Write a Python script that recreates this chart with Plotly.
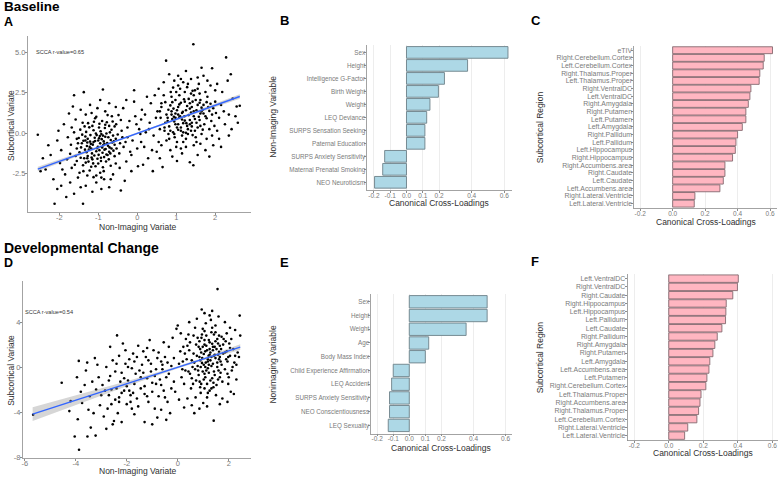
import numpy as np
import plotly.graph_objects as go

W, H = 780, 479
def PX(x): return x / W
def PY(y): return 1 - y / H

FONT = "Liberation Sans, Arial, sans-serif"

# ---------------- Panel A: baseline scatter (estimated points) ----------------
a_pts = [
(-1.21,-0.52),(-0.98,-0.31),(-1.05,-1.12),(-0.87,-0.74),(-1.33,-0.21),(-1.12,0.18),(-0.76,-1.35),(-0.92,-0.05),(-1.44,-0.88),(-1.02,-1.58),
(-0.68,-0.42),(-1.18,-0.95),(-0.83,0.32),(-1.27,-1.41),(-0.95,-0.63),(-1.09,-0.28),(-0.71,-0.88),(-1.38,-0.47),(-0.89,-1.21),(-1.15,0.45),
(-0.62,-0.15),(-1.25,-1.76),(-1.01,-0.84),(-0.79,-0.02),(-1.48,-1.18),(-0.94,0.12),(-1.07,-2.05),(-0.73,-1.62),(-1.31,0.08),(-0.86,-0.51),
(-1.19,-0.66),(-0.58,-0.72),(-1.41,-0.09),(-0.99,-1.34),(-0.81,-0.98),(-1.13,-1.87),(-0.66,0.21),(-1.36,-1.55),(-0.91,-0.37),(-1.23,0.36),
(-0.77,-0.61),(-1.04,-0.12),(-1.29,-0.79),(-0.85,-1.48),(-0.61,-1.08),(-1.16,-1.25),(-0.97,0.58),(-1.52,-0.62),(-0.72,0.45),(-1.08,-0.48),
(-0.88,-2.11),(-1.34,-1.02),(-0.55,-0.35),(-1.22,-2.31),(-0.93,-1.72),(-1.46,0.22),(-0.69,-1.25),(-1.11,0.71),(-0.82,-0.22),(-1.27,-0.35),
(-1.58,-1.41),(-0.64,-0.58),(-1.03,-0.93),(-0.78,0.68),(-1.39,-1.98),(-0.96,-0.18),(-1.17,-1.51),(-0.53,-0.95),(-1.28,-0.58),(-0.84,-1.02),
(-1.14,-0.71),(-0.90,-0.88),(-1.06,-0.02),(-0.74,-0.25),(-1.30,-1.18),(-0.97,-1.05),(-1.20,-0.12),(-0.84,-0.65),(-1.42,-0.62),(-0.66,-0.95),
(-1.00,-0.45),(-1.24,-1.02),(-0.80,-1.75),(-1.10,-1.38),(-0.60,-0.50),(-1.35,0.42),(-0.90,0.75),(-1.18,-2.08),(-0.70,0.05),(-1.50,-0.30),
(-0.95,-2.45),(-1.32,-1.82),(-0.58,-1.42),(-1.08,0.92),(-0.76,1.12),(-1.45,-1.52),(-0.88,-0.15),(-1.22,-0.85),(-0.68,-2.02),(-1.00,-1.88),
(-0.82,0.52),(-1.38,-2.35),(-0.50,-0.08),(-1.26,0.62),(-0.93,-1.52),(-1.12,-0.55),(-0.72,-1.15),(-1.55,-0.95),(-0.46,-1.25),(-1.17,1.25),
(-0.86,-2.35),(-1.40,0.65),(-0.63,0.72),(-1.05,-2.62),(-0.79,-1.32),(-1.28,-1.55),(-0.98,0.35),(-1.60,-1.95),(-0.54,0.55),(-1.15,-1.62),
(-0.75,-0.78),(-1.33,-0.45),(-0.92,-2.75),(-1.48,-2.45),(-0.68,-2.85),(-1.70,-0.72),(-1.62,0.05),(-0.44,-0.62),(-1.80,-1.62),(-0.40,0.15),
(-2.55,-0.10),(-2.12,-4.37),(-1.39,-4.37),(-1.37,2.54),(-0.88,2.70),(-0.08,2.66),(-1.62,2.35),(-0.95,2.05),(-0.72,1.85),(-1.21,1.75),
(-0.55,1.62),(-1.45,1.45),(-0.36,1.55),(-1.75,1.22),(-0.48,1.12),(-1.88,0.55),(-2.05,-0.45),(-2.22,-1.35),(-1.95,-1.05),(-1.78,-0.25),
(-1.68,-2.15),(-1.85,-2.55),(-2.35,-2.25),(-2.15,-2.85),(-1.95,-3.25),(-1.72,-3.05),(-1.52,-2.75),(-1.32,-3.25),(-1.05,-3.05),(-0.85,-2.85),
(-0.62,-2.55),(-0.45,-2.15),(-0.28,-1.75),(-0.35,-0.85),(-0.25,0.35),(-0.42,0.82),(-1.58,0.85),(-1.98,-1.85),(-2.42,-1.55),(-2.28,-0.75),
(-1.62,-3.75),(-1.82,-3.95),(-1.15,-3.62),(-0.72,-3.35),(-0.42,-3.55),(-1.28,-2.62),(-1.55,-1.72),(-0.55,-1.88),(-2.05,-3.45),(-1.45,-3.35),
(-0.32,-2.95),(-0.15,-2.35),(-0.18,-1.15),(-1.68,0.35),(-2.02,0.15),(-1.32,1.15),(-0.82,1.35),(-1.05,1.02),(-0.65,1.05),(-1.55,-0.35),
(-1.72,-1.28),(-0.38,-0.25),(-1.92,-2.25),(-1.12,-2.72),(-0.92,-3.45),(-2.48,-2.35),(-1.65,1.65),(-0.28,2.05),(-1.02,1.55),(-0.58,0.42),
(-0.12,-0.45),(0.05,0.25),(0.18,-0.85),(0.32,0.65),(-0.05,1.05),(0.42,-0.15),(0.12,1.45),(0.28,-1.55),(0.48,0.95),(-0.15,-1.35),
(0.08,-0.05),(0.35,1.85),(0.22,0.05),(0.55,-0.55),(0.02,-2.05),(0.45,2.35),(0.15,-1.95),(0.38,-1.05),(-0.02,0.55),(0.52,1.35),
(0.25,2.25),(0.58,0.25),(0.10,0.85),(0.40,-2.35),(-0.08,1.95),
(-0.30,-0.55),(0.10,-0.55),(0.30,0.25),(0.60,0.95),(-0.20,0.75),(0.50,-1.15),(0.20,1.15),(0.00,-0.95),(0.62,1.62),(-0.25,-0.25),
(1.21,1.05),(0.95,0.72),(1.35,1.52),(1.05,0.21),(1.48,0.88),(0.88,1.35),(1.28,0.45),(1.62,1.22),(1.12,1.88),(0.78,0.95),
(1.42,-0.12),(1.02,1.42),(1.55,1.75),(0.92,0.05),(1.32,2.12),(1.18,0.62),(1.72,0.55),(0.85,1.72),(1.25,-0.35),(1.45,2.35),
(1.08,0.98),(1.65,1.58),(0.98,2.05),(1.38,0.15),(1.15,1.25),(1.78,1.92),(0.82,0.42),(1.52,0.65),(1.22,2.55),(0.96,-0.25),
(1.58,1.02),(1.05,1.62),(1.35,0.82),(0.75,1.15),(1.85,1.38),(1.12,0.35),(1.42,1.95),(0.90,0.88),(1.68,0.22),(1.28,1.68),
(1.02,-0.55),(1.48,2.65),(1.18,0.05),(1.75,1.05),(0.88,2.25),(1.32,1.12),(1.62,2.05),(0.98,1.22),(1.40,0.42),(1.10,2.75),
(0.80,-0.05),(1.55,0.35),(1.25,1.42),(1.90,0.75),(1.05,0.55),(1.45,1.35),(0.72,0.65),(1.70,1.75),(1.15,-0.15),(1.38,2.45),
(1.95,1.55),(0.93,1.52),(1.60,0.82),(1.22,0.78),(1.50,-0.25),(0.86,2.55),(1.30,3.05),(1.80,2.25),(1.08,2.35),(1.65,1.35),
(1.17,1.32),(0.94,1.02),(1.40,0.65),(1.08,1.78),(1.52,1.42),(0.85,0.15),(1.30,0.25),(1.60,1.88),(1.20,2.10),(0.98,0.55),
(1.45,1.05),(1.05,1.15),(1.70,1.22),(0.90,1.92),(1.35,1.85),(1.15,0.85),(1.78,0.92),(0.80,1.45),(1.25,0.02),(1.50,2.05),
(1.00,2.55),(1.62,0.45),(1.28,2.85),(1.12,0.15),(1.40,1.62),(0.95,-0.05),(1.82,1.62),(1.18,-0.55),(1.55,2.75),(0.78,0.75),
(1.35,0.55),(1.05,2.95),(1.68,1.45),(0.88,1.15),(1.48,0.15),(1.22,1.95),(1.92,1.15),(1.02,0.35),(1.60,2.45),(1.30,-0.05),
(0.72,1.92),(1.42,2.62),(1.10,1.05),(1.75,2.55),(0.98,0.95),(1.52,-0.55),(1.26,0.62),(1.85,0.25),(0.92,2.82),(1.38,1.28),
(1.65,-0.05),(1.00,-0.85),(2.02,1.25),(1.12,3.35),(1.45,-0.75),(0.70,0.35),(1.88,1.82),(1.58,3.05),(0.82,-0.35),(2.10,0.95),
(1.44,5.50),(0.74,4.49),(2.28,4.69),(1.92,4.02),(1.44,-1.98),(0.65,-2.10),(1.35,-1.80),(2.15,-0.85),(1.65,4.05),(1.25,3.85),
(1.05,3.55),(0.95,3.25),(1.55,3.45),(1.80,3.25),(2.05,3.05),(2.32,3.25),(0.68,3.15),(0.55,2.75),(2.45,2.15),(2.55,1.65),
(2.35,1.15),(2.25,0.55),(2.42,0.25),(2.10,-0.35),(1.95,-0.75),(1.75,-1.05),(1.55,-1.35),(1.15,-1.25),(0.85,-1.05),(0.62,-0.75),
(0.58,-1.55),(1.02,-1.72),(1.85,-1.45),(2.35,-0.15),(2.00,1.95),(2.18,2.55),(2.00,2.65),(1.88,2.95),(0.62,1.85),(0.58,1.35),
(0.68,2.35),(1.25,-0.85),(1.62,-0.65),(0.75,-0.45),(2.05,0.15),(2.22,1.35),(1.98,0.45),(2.52,1.05),(1.70,3.55),(1.38,3.35),
(0.82,3.65),(1.18,3.15),(2.15,1.75),(0.70,0.15),(1.92,-0.15),(1.12,-0.95),(2.40,3.65),(2.58,0.65),(0.90,-1.45),(1.78,-0.35),
(2.63,1.70),
]
a_x = [p[0] for p in a_pts]
a_y = [p[1] for p in a_pts]
a_fit_x = [-2.55, 2.63]
a_fit_y = [-2.22, 2.27]
a_band_x = [-2.55, -1.5, -0.5, 0.5, 1.5, 2.63]
a_band_hw = [0.14, 0.09, 0.05, 0.05, 0.08, 0.14]
a_label = "SCCA r-value=0.65"

# ---------------- Panel D: developmental change scatter (estimated points) ----------------
d_pts = [
(1.21,1.05),(0.95,0.42),(1.35,2.12),(1.05,-0.55),(1.48,0.85),(0.88,1.65),(1.28,-1.15),(1.62,1.42),(1.12,2.85),(0.78,0.15),
(1.42,-0.35),(1.02,1.22),(1.55,2.55),(0.92,-1.45),(1.32,3.15),(1.18,0.55),(1.72,0.25),(0.85,2.35),(1.25,-2.05),(1.45,1.85),
(1.08,0.05),(1.65,-0.85),(0.98,3.45),(1.38,0.35),(1.15,1.55),(1.78,2.05),(0.82,-0.65),(1.52,-1.55),(1.22,2.45),(0.96,0.85),
(1.58,1.15),(1.05,2.05),(1.35,-0.95),(0.75,1.05),(1.85,1.35),(1.12,-0.25),(1.42,2.95),(0.90,-2.25),(1.68,0.55),(1.28,1.35),
(1.02,-1.05),(1.48,3.75),(1.18,-0.05),(1.75,-1.25),(0.88,0.65),(1.32,0.95),(1.62,2.85),(0.98,1.85),(1.40,-1.75),(1.10,3.95),
(0.80,-0.25),(1.55,0.05),(1.25,2.25),(1.90,0.75),(1.05,-1.85),(1.45,1.15),(0.72,2.05),(1.70,1.65),(1.15,-2.65),(1.38,1.55),
(1.95,-0.55),(0.93,2.65),(1.60,-0.25),(1.22,0.25),(1.50,-2.45),(0.86,-1.25),(1.30,4.25),(1.80,2.55),(1.08,1.45),(1.65,0.95),
(0.65,0.45),(0.55,-0.95),(0.45,1.55),(0.62,2.85),(0.52,-1.85),(0.68,3.55),(0.58,0.05),(0.42,-0.35),(0.48,2.25),(0.70,-2.65),
(2.05,1.05),(2.12,-0.25),(2.22,0.45),(2.02,2.15),(1.98,-1.45),(2.18,1.65),(2.30,0.25),(1.92,3.05),(2.08,-2.15),(2.35,1.35),
(0.35,0.75),(0.25,-1.45),(0.32,2.55),(0.18,-0.15),(0.28,1.25),(0.12,3.05),(0.38,-2.75),(0.05,0.35),(0.15,-0.85),(0.22,1.85),
(1.18,0.75),(1.38,1.85),(0.98,-0.35),(1.55,0.45),(1.25,1.65),(0.85,0.95),(1.45,-0.65),(1.05,2.45),(1.65,1.95),(1.15,-1.45),
(0.92,1.35),(1.32,0.15),(1.72,2.75),(1.08,-0.85),(1.48,2.35),(0.78,2.65),(1.22,-0.45),(1.58,-1.05),(1.02,0.25),(1.35,3.55),
(0.88,-1.75),(1.42,1.05),(1.12,1.95),(1.68,-0.45),(0.95,2.95),(1.28,0.65),(1.52,1.65),(1.18,-2.25),(0.82,1.85),(1.62,0.75),
(1.05,3.25),(1.40,-1.35),(1.25,1.15),(0.72,-1.15),(1.78,1.25),(1.10,0.45),(1.48,3.15),(0.90,0.05),(1.32,-1.85),(1.58,2.15),
(0.62,1.25),(0.55,0.65),(0.48,-0.55),(0.38,1.95),(0.30,-0.25),(0.68,-0.15),(0.42,2.95),(0.20,0.55),(0.60,-1.45),(0.10,1.45),
(1.85,-0.15),(1.95,0.55),(2.05,1.75),(2.15,0.05),(1.88,2.35),(2.25,1.05),(2.00,-0.85),(1.92,1.45),(2.10,2.55),(1.98,0.95),
(1.56,6.99),(2.43,4.63),(0.94,5.17),(1.41,-4.72),(1.05,4.85),(1.25,4.65),(0.75,4.35),(1.60,4.55),(1.85,4.05),(2.05,3.55),
(0.45,4.05),(0.00,3.75),(-0.05,3.45),(2.45,2.85),(2.40,0.95),(2.30,-1.05),(2.20,-2.35),(1.95,-3.05),(1.65,-3.25),(1.15,-3.45),
(0.85,-3.65),(0.55,-3.35),(0.25,-3.55),(0.05,-2.85),(-0.10,-2.15),(1.00,-3.15),(1.75,-2.75),(0.65,-4.05),(2.25,3.35),(1.35,5.05),
(-0.25,0.15),(-0.45,-0.85),(-0.65,0.55),(-0.85,-1.45),(-1.05,-0.35),(-1.25,0.95),(-1.45,-1.85),(-1.65,-0.55),(-1.85,-2.45),(-2.05,0.35),
(-2.25,-1.25),(-2.45,-2.85),(-2.65,-0.75),(-2.85,-2.05),(-3.05,-3.35),(-0.35,1.85),(-0.55,2.25),(-0.75,-2.55),(-0.95,1.55),(-1.15,-3.05),
(-1.35,1.45),(-1.55,-3.45),(-1.75,1.25),(-1.95,-1.15),(-2.15,2.15),(-2.35,-4.05),(-2.55,0.65),(-2.75,-3.65),(-2.95,-1.55),(-3.15,0.25),
(-0.15,-1.25),(-0.40,-3.05),(-0.60,-0.15),(-0.80,0.85),(-1.00,-2.15),(-1.20,-0.95),(-1.40,0.25),(-1.60,-2.75),(-1.80,-0.05),(-2.00,-3.25),
(-2.20,-0.45),(-2.40,-1.85),(-2.60,-3.25),(-2.80,0.05),(-3.00,-2.45),(-0.50,0.95),(-0.70,-1.05),(-0.90,-3.65),(-1.10,2.45),(-1.30,-1.65),
(-1.50,-0.25),(-1.70,-4.15),(-1.90,0.75),(-2.10,-2.05),(-2.30,1.05),(-2.38,2.87),(-2.50,-4.75),(-2.70,-1.15),(-2.90,-4.35),(-3.10,-0.85),
(-0.30,-4.05),(-0.55,-2.05),(-0.80,-4.45),(-1.05,0.35),(-1.30,-4.85),(-1.55,1.95),(-1.80,-3.65),(-2.05,1.55),(-2.30,-3.05),(-2.55,-5.05),
(-0.20,2.65),(-0.65,-3.75),(-1.20,-2.55),(-1.70,0.55),(-2.20,-4.85),(-2.80,-5.45),(-1.00,-5.05),(-0.45,-4.65),(-3.20,-1.95),(-2.65,1.85),
(-0.35,-0.55),(-0.60,0.25),(-0.90,-0.75),(-1.15,0.65),(-1.45,-0.85),(-1.70,-1.45),(-1.95,0.05),(-2.20,-2.25),(-2.45,-0.35),(-2.70,-2.45),
(-0.25,-1.85),(-0.75,1.35),(-1.00,-1.35),(-1.30,-2.35),(-1.60,0.95),(-1.85,-3.05),(-2.10,-0.95),(-2.40,0.35),(-2.60,-1.95),(-0.50,-2.65),
(-0.15,0.85),(-0.85,-0.15),(-1.35,-0.45),(-1.90,-2.05),(-2.30,-2.65),(-0.65,-1.55),(-1.20,1.75),(-1.75,-2.25),(-2.00,-1.65),(-0.40,0.45),
(-5.67,-4.19),(-4.20,-2.98),(-3.88,0.60),(-4.25,-3.87),(-3.92,-4.60),(-4.04,-6.13),(-3.87,-7.31),(-3.54,-6.13),(-3.41,-5.34),(-3.55,0.45),
(-3.35,-1.25),(-3.45,-2.55),(-3.65,-1.55),(-3.75,-3.15),(-3.30,-4.05),(-3.60,-0.25),(-3.22,-6.05),(-3.50,-3.75),(-3.25,0.85),(-3.80,-2.15),
(-4.55,-1.35),(-3.95,-0.85),
]
d_x = [p[0] for p in d_pts]
d_y = [p[1] for p in d_pts]
d_fit_x = [-5.69, 2.45]
d_fit_y = [-4.14, 1.83]
d_band_x = [-5.69, -4.0, -2.0, 0.0, 1.0, 2.45]
d_band_hw = [0.62, 0.42, 0.22, 0.10, 0.12, 0.25]
d_label = "SCCA r-value=0.54"

# ---------------- Panel B ----------------
b_vars = ["Sex", "Height", "Intelligence G-Factor", "Birth Weight", "Weight", "LEQ Deviance",
          "SURPS Sensation Seeking", "Paternal Education", "SURPS Anxiety Sensitivity",
          "Maternal Prenatal Smoking", "NEO Neuroticism"]
b_vals = [0.623, 0.375, 0.233, 0.196, 0.144, 0.124, 0.113, 0.113, -0.134, -0.146, -0.196]

# ---------------- Panel C ----------------
c_regions = ["eTIV", "Right.Cerebellum.Cortex", "Left.Cerebellum.Cortex", "Right.Thalamus.Proper",
             "Left.Thalamus.Proper", "Right.VentralDC", "Left.VentralDC", "Right.Amygdala",
             "Right.Putamen", "Left.Putamen", "Left.Amygdala", "Right.Pallidum", "Left.Pallidum",
             "Left.Hippocampus", "Right.Hippocampus", "Right.Accumbens.area", "Right.Caudate",
             "Left.Caudate", "Left.Accumbens.area", "Right.Lateral.Ventricle", "Left.Lateral.Ventricle"]
c_vals = [0.615, 0.564, 0.558, 0.537, 0.533, 0.482, 0.476, 0.466, 0.451, 0.451, 0.429,
          0.400, 0.390, 0.386, 0.369, 0.322, 0.322, 0.312, 0.291, 0.137, 0.133]

# ---------------- Panel E ----------------
e_vars = ["Sex", "Height", "Weight", "Age", "Body Mass Index", "Child Experience Affirmation",
          "LEQ Accident", "SURPS Anxiety Sensitivity", "NEO Conscientiousness", "LEQ Sexuality"]
e_vals = [0.485, 0.485, 0.354, 0.121, 0.100, -0.100, -0.110, -0.123, -0.123, -0.131]

# ---------------- Panel F ----------------
f_regions = ["Left.VentralDC", "Right.VentralDC", "Right.Caudate", "Right.Hippocampus",
             "Left.Hippocampus", "Left.Pallidum", "Left.Caudate", "Right.Pallidum", "Right.Amygdala",
             "Right.Putamen", "Left.Amygdala", "Left.Accumbens.area", "Left.Putamen",
             "Right.Cerebellum.Cortex", "Left.Thalamus.Proper", "Right.Accumbens.area",
             "Right.Thalamus.Proper", "Left.Cerebellum.Cortex", "Right.Lateral.Ventricle",
             "Left.Lateral.Ventricle"]
f_vals = [0.403, 0.398, 0.371, 0.333, 0.331, 0.329, 0.308, 0.281, 0.267, 0.256, 0.238,
          0.233, 0.221, 0.215, 0.187, 0.181, 0.173, 0.163, 0.110, 0.092]

bar_ticks_fine = [-0.2, -0.1, 0.0, 0.1, 0.2, 0.4, 0.6]
bar_ticks = [-0.2, 0.0, 0.2, 0.4, 0.6]

fig = go.Figure()

def scatter_panel(n, xs, ys, fx, fy, bx, bhw):
    xa = "x" if n == 1 else f"x{n}"
    ya = "y" if n == 1 else f"y{n}"
    bx = np.array(bx, float)
    cen = np.interp(bx, fx, fy)
    hw = np.array(bhw, float)
    fig.add_trace(go.Scatter(x=xs, y=ys, mode="markers", xaxis=xa, yaxis=ya,
                             marker=dict(color="black", size=2.6), showlegend=False, hoverinfo="skip"))
    fig.add_trace(go.Scatter(x=list(bx) + list(bx[::-1]), y=list(cen + hw) + list((cen - hw)[::-1]),
                             fill="toself", fillcolor="rgba(153,153,153,0.4)", line=dict(width=0),
                             mode="lines", xaxis=xa, yaxis=ya, showlegend=False, hoverinfo="skip"))
    fig.add_trace(go.Scatter(x=fx, y=fy, mode="lines", line=dict(color="#3366FF", width=1.4),
                             xaxis=xa, yaxis=ya, showlegend=False, hoverinfo="skip"))

def bar_panel(n, cats, vals, fill, edge):
    fig.add_trace(go.Bar(x=vals, y=cats, orientation="h", xaxis=f"x{n}", yaxis=f"y{n}", width=0.9,
                         marker=dict(color=fill, line=dict(color=edge, width=0.9)),
                         showlegend=False, hoverinfo="skip"))

scatter_panel(1, a_x, a_y, a_fit_x, a_fit_y, a_band_x, a_band_hw)
bar_panel(2, b_vars, b_vals, "#ADD8E6", "#6d8189")
bar_panel(3, c_regions, c_vals, "#FFB6C1", "#85696f")
scatter_panel(4, d_x, d_y, d_fit_x, d_fit_y, d_band_x, d_band_hw)
bar_panel(5, e_vars, e_vals, "#ADD8E6", "#6d8189")
bar_panel(6, f_regions, f_vals, "#FFB6C1", "#85696f")

AXC = "#8c8c8c"
TICKC = "#7a7a7a"
TITLEC = "#303030"

def sc_axes(xdom, ydom, xr, yr, xt, yt, ytt):
    xa = dict(domain=xdom, range=xr, showline=True, linecolor=AXC, linewidth=0.8, ticks="outside",
              ticklen=2, tickcolor=AXC, tickfont=dict(size=7.5, color=TICKC), showgrid=False,
              zeroline=False, tickmode="array", tickvals=xt, ticktext=[str(v) for v in xt],
              ticklabelstandoff=-4)
    ya = dict(domain=ydom, range=yr, showline=True, linecolor=AXC, linewidth=0.8, ticks="outside",
              ticklen=2, tickcolor=AXC, tickfont=dict(size=7.5, color=TICKC), showgrid=False,
              zeroline=False, tickmode="array", tickvals=yt, ticktext=ytt, ticklabelstandoff=-2)
    return xa, ya

def bar_axes(xdom, ydom, xr, cats, xt, tsize):
    n = len(cats)
    xa = dict(domain=xdom, range=xr, showline=True, linecolor=AXC, linewidth=0.8, ticks="outside",
              ticklen=2, tickcolor=AXC, tickfont=dict(size=6.5, color=TICKC), showgrid=True,
              gridcolor="#e6e6e6", gridwidth=0.7, zeroline=False, tickmode="array", tickvals=xt,
              ticktext=[f"{v:.1f}" for v in xt], ticklabelstandoff=-3)
    ya = dict(domain=ydom, range=[-0.6, n - 0.4], type="category", categoryorder="array",
              categoryarray=list(reversed(cats)), showline=True, linecolor=AXC, linewidth=0.8,
              ticks="outside", ticklen=2, tickcolor=AXC, tickfont=dict(size=tsize, color=TICKC),
              showgrid=False, zeroline=False, tickmode="array", tickvals=list(cats),
              ticktext=list(cats), ticklabelstandoff=-2)
    return xa, ya

x1, y1 = sc_axes([PX(26.7), PX(250)], [PY(213.5), PY(36.7)], [-2.81, 2.91], [-4.86, 5.99],
                 [-2, -1, 0, 1, 2], [-2.5, 0.0, 2.5, 5.0], ["-2.5", "0.0", "2.5", "5.0"])
x4, y4 = sc_axes([PX(21.7), PX(250)], [PY(461.7), PY(283.5)], [-6.08, 2.86], [-8.03, 7.7],
                 [-6, -4, -2, 0, 2], [-8, -4, 0, 4], ["-8", "-4", "0", "4"])
x2, y2 = bar_axes([PX(366.7), PX(511.7)], [PY(191.7), PY(45)], [-0.241, 0.648], b_vars, bar_ticks_fine, 6.3)
x3, y3 = bar_axes([PX(634), PX(776.7)], [PY(210), PY(46)], [-0.237, 0.641], c_regions, bar_ticks, 6.9)
x5, y5 = bar_axes([PX(370.7), PX(511.7)], [PY(437.3), PY(296)], [-0.237, 0.640], e_vars, bar_ticks_fine, 6.3)
x6, y6 = bar_axes([PX(627.3), PX(778)], [PY(444.3), PY(276)], [-0.239, 0.633], f_regions, bar_ticks, 6.9)

for i, (xa, ya) in enumerate([(x1, y1), (x2, y2), (x3, y3), (x4, y4), (x5, y5), (x6, y6)], start=1):
    xa["anchor"] = "y" if i == 1 else f"y{i}"
    ya["anchor"] = "x" if i == 1 else f"x{i}"

anns = []
def txt(x, y, s, size, color=TITLEC, bold=False, angle=0, xanchor="center"):
    anns.append(dict(x=PX(x), y=PY(y), xref="paper", yref="paper", text=(f"<b>{s}</b>" if bold else s),
                     showarrow=False, textangle=angle, xanchor=xanchor, yanchor="middle",
                     font=dict(family=FONT, size=size, color=color)))

# headings and panel letters
txt(1, 7, "Baseline", 13.5, "black", True, xanchor="left")
txt(1, 22, "A", 12.5, "black", True, xanchor="left")
txt(1, 250, "Developmental Change", 14, "black", True, xanchor="left")
txt(1, 265, "D", 12.5, "black", True, xanchor="left")
txt(277, 21, "B", 13, "black", True, xanchor="left")
txt(529, 21, "C", 13, "black", True, xanchor="left")
txt(277, 265, "E", 13, "black", True, xanchor="left")
txt(529, 264, "F", 13, "black", True, xanchor="left")

# axis titles
txt(137, 229, "Non-Imaging Variate", 8.5)
txt(10, 126, "Subcortical Variate", 8.5, angle=-90)
txt(137, 474.5, "Non-Imaging Variate", 8.5)
txt(10, 373, "Subcortical Variate", 8.5, angle=-90)
txt(439, 205, "Canonical Cross-Loadings", 8.5)
txt(272, 118, "Non-Imaging Variable", 8.5, angle=-90)
txt(706, 223.5, "Canonical Cross-Loadings", 8.5)
txt(540, 128, "Subcortical Region", 8.5, angle=-90)
txt(441, 452, "Canonical Cross-Loadings", 8.5)
txt(272, 367, "Nonimaging Variable", 8.5, angle=-90)
txt(703, 456.5, "Canonical Cross-Loadings", 8.5)
txt(540, 360, "Subcortical Region", 8.5, angle=-90)

# SCCA labels
txt(33, 52.7, a_label, 5.6, "#333333", xanchor="left")
txt(22, 315, d_label, 5.6, "#333333", xanchor="left")

fig.update_layout(width=W, height=H, margin=dict(l=0, r=0, t=0, b=0), paper_bgcolor="white",
                  plot_bgcolor="white", font=dict(family=FONT), annotations=anns, bargap=0.1,
                  hovermode=False,
                  xaxis=x1, yaxis=y1, xaxis2=x2, yaxis2=y2, xaxis3=x3, yaxis3=y3,
                  xaxis4=x4, yaxis4=y4, xaxis5=x5, yaxis5=y5, xaxis6=x6, yaxis6=y6)

fig.write_html("out.html", config={"displayModeBar": False, "staticPlot": True},
               post_script="document.body.style.margin='0';document.body.style.padding='0';")
